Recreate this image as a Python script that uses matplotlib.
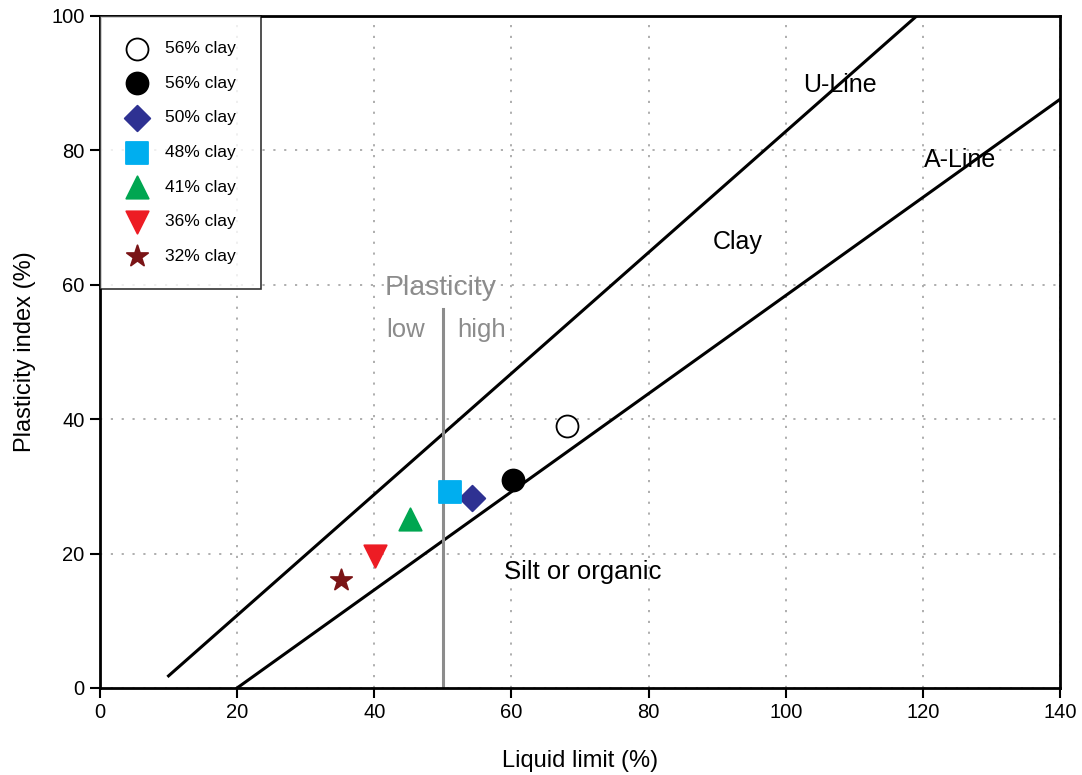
import matplotlib
matplotlib.use("Agg")
import matplotlib.pyplot as plt

plt.rcParams["font.family"] = ["Liberation Sans", "DejaVu Sans"]

# samples
labels = ["56% clay", "56% clay", "50% clay", "48% clay", "41% clay", "36% clay", "32% clay"]
liquid_limit = [68.1, 60.2, 54.2, 51.0, 45.2, 40.1, 35.1]
plasticity_index = [39.0, 31.0, 28.3, 29.2, 25.2, 19.6, 16.1]
markers = ["o", "o", "D", "s", "^", "v", "*"]
faces = ["white", "black", "#2e3192", "#00aeef", "#00a651", "#ed1c24", "#7a1416"]
sizes = [250, 250, 170, 230, 260, 260, 260]

# reference lines (end points)
u_line_x = [10, 119.1]
u_line_y = [1.8, 100]
a_line_x = [20, 140]
a_line_y = [0, 87.6]

fig = plt.figure(figsize=(10.82, 7.75), dpi=100)
ax = fig.add_axes([0.0924, 0.1123, 0.8873, 0.8671])

ax.grid(True, linestyle=(0, (1.2, 4.8)), color="#a8a8a8", linewidth=1.3)
ax.set_axisbelow(True)

ax.plot(u_line_x, u_line_y, color="black", lw=2.2, zorder=2)
ax.plot(a_line_x, a_line_y, color="black", lw=2.2, zorder=2)
ax.plot([50, 50], [0, 56.4], color="#8c8c8c", lw=2.2, zorder=2)

for x, y, m, fc, s, lab in zip(liquid_limit, plasticity_index, markers, faces, sizes, labels):
    ec = "black" if m == "o" else fc
    ax.scatter([x], [y], marker=m, s=s, facecolor=fc, edgecolor=ec, linewidths=1.3, label=lab, zorder=3)

ax.text(107.9, 89.7, "U-Line", fontsize=18, ha="center", va="center")
ax.text(125.4, 78.6, "A-Line", fontsize=18, ha="center", va="center")
ax.text(93.0, 66.4, "Clay", fontsize=18, ha="center", va="center")
ax.text(70.4, 17.3, "Silt or organic", fontsize=18.5, ha="center", va="center")
ax.text(49.7, 59.5, "Plasticity", fontsize=20.5, color="#8c8c8c", ha="center", va="center")
ax.text(44.6, 53.3, "low", fontsize=18.5, color="#8c8c8c", ha="center", va="center")
ax.text(55.7, 53.3, "high", fontsize=18.5, color="#8c8c8c", ha="center", va="center")

ax.set_xlim(0, 140)
ax.set_ylim(0, 100)
ax.set_xticks(range(0, 141, 20))
ax.set_yticks(range(0, 101, 20))
ax.tick_params(direction="out", length=7, width=1.5, labelsize=14.5, pad=4)
for sp in ax.spines.values():
    sp.set_linewidth(2)

ax.set_xlabel("Liquid limit (%)", fontsize=17, labelpad=20)
ax.set_ylabel("Plasticity index (%)", fontsize=17, labelpad=11)

leg = ax.legend(loc="upper left", fontsize=12.5, frameon=True, fancybox=False,
                edgecolor="black", borderaxespad=0, borderpad=1.45,
                labelspacing=1.12, handlelength=1.4, handletextpad=0.9,
                scatterpoints=1)
leg.get_frame().set_linewidth(1.2)

fig.savefig("out.png", dpi=100)
